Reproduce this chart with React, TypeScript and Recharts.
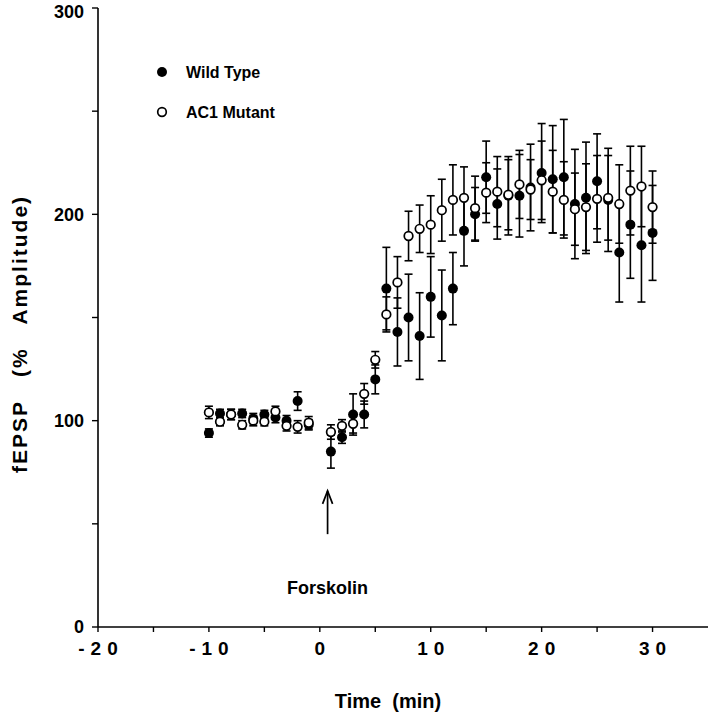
import { ScatterChart, Scatter, XAxis, YAxis, ErrorBar, ReferenceLine, ReferenceDot, Label } from 'recharts';

const FONT = '"Liberation Sans", Arial, Helvetica, sans-serif';

// minutes relative to forskolin application
const times = [-10, -9, -8, -7, -6, -5, -4, -3, -2, -1, 1, 2, 3, 4, 5, 6, 7, 8, 9, 10, 11, 12, 13, 14, 15, 16, 17, 18, 19, 20, 21, 22, 23, 24, 25, 26, 27, 28, 29, 30];

const wildTypeMean = [94, 103.5, 103, 103.5, 101, 103, 101.5, 100, 109.5, 98, 85, 92, 103, 103, 120, 164, 143, 150, 141, 160, 151, 164, 192, 200, 218, 205, 209, 209, 213, 220, 217, 218, 205, 208, 216, 207, 181.5, 195, 185, 191];
const wildTypeSem = [2, 2, 2.5, 2, 2.5, 2, 2.5, 2.5, 4.5, 2.5, 8, 3, 10, 6.5, 7, 20, 16.5, 21, 21, 19.5, 22, 17.5, 17, 13, 17.5, 17, 19, 20, 21, 24, 26, 28, 26.5, 27, 23, 25, 24, 26, 27.5, 23];

const mutantMean = [104, 99.5, 103, 98, 100, 99.5, 104.5, 97.5, 97, 99, 94.5, 97.5, 98.5, 113, 129.5, 151.5, 167, 189.5, 193, 195, 202, 207, 208, 203, 210.5, 211, 209.5, 214.5, 212, 216.5, 211, 207, 202.5, 203.5, 207.5, 208, 205, 211.5, 213.5, 203.5];
const mutantSem = [3, 2, 2.5, 2, 2.5, 2, 2.5, 2.5, 3, 3, 3.5, 3, 4.5, 5, 4, 8.5, 12.5, 12, 11.5, 14, 15, 17, 15, 15.5, 14.5, 17, 17, 16.5, 14.5, 19, 20, 18.5, 17.5, 21, 21, 20.5, 19, 21.5, 19.5, 17.5];

const xTicks = [-20, -15, -10, -5, 0, 5, 10, 15, 20, 25, 30];
const xLabelled = [-20, -10, 0, 10, 20, 30];
const yTicks = [0, 50, 100, 150, 200, 250, 300];
const yLabelled = [0, 100, 200, 300];

const seriesNames = ['Wild Type', 'AC1 Mutant'];

const wildType = times.map((t, i) => ({ t, v: wildTypeMean[i], e: wildTypeSem[i] }));
const mutant = times.map((t, i) => ({ t, v: mutantMean[i], e: mutantSem[i] }));

const textStyle = { fontFamily: FONT, fontWeight: 700, fill: '#000', whiteSpace: 'pre' as const };

function XTick(p: any) {
  const v = p.payload.value;
  if (!xLabelled.includes(v)) return <g />;
  return (
    <text x={p.x + 3} y={p.y} dy="0.71em" textAnchor="middle" fontSize={19} letterSpacing={6} style={textStyle}>
      {v}
    </text>
  );
}

function YTick(p: any) {
  if (!yLabelled.includes(p.payload.value)) return <g />;
  // the top label sits a little lower so it is not clipped by the page edge
  const y = Math.max(p.y, 12);
  return (
    <text x={p.x} y={y} dy="0.36em" textAnchor="end" fontSize={18} style={textStyle}>
      {p.payload.value}
    </text>
  );
}

const FilledDot = (p: any) => <circle cx={p.cx} cy={p.cy} r={5} fill="#000" />;
const OpenDot = (p: any) => <circle cx={p.cx} cy={p.cy} r={4.3} fill="#fff" stroke="#000" strokeWidth={1.7} />;

function Arrow(p: any) {
  const top = Math.min(p.y1, p.y2);
  const bottom = Math.max(p.y1, p.y2);
  const x = p.x1;
  return (
    <g stroke="#000" strokeWidth={1.7} fill="none">
      <line x1={x} y1={bottom} x2={x} y2={top} />
      <polyline points={`${x - 5},${top + 13} ${x},${top} ${x + 5},${top + 13}`} />
    </g>
  );
}

export default function App() {
  const axisLine = { stroke: '#000', strokeWidth: 1.6 };
  const tickLine = { stroke: '#000', strokeWidth: 1.4 };
  return (
    <div style={{ position: 'absolute', left: 0, top: 0, width: 720, height: 717, background: '#fff' }}>
      <ScatterChart width={720} height={717} margin={{ top: 8, right: 12, bottom: 50, left: 0 }}>
        <XAxis dataKey="t" type="number" domain={[-20, 35]} ticks={xTicks} interval={0} height={40} tickSize={5} tickMargin={10} axisLine={axisLine} tickLine={tickLine} tick={XTick}>
          <Label
            content={() => (
              <text x={388} y={708} textAnchor="middle" fontSize={20} style={textStyle}>
                {'Time  (min)'}
              </text>
            )}
          />
        </XAxis>
        <YAxis dataKey="v" type="number" domain={[0, 300]} ticks={yTicks} interval={0} width={98} tickSize={6} tickMargin={8} axisLine={axisLine} tickLine={tickLine} tick={YTick}>
          <Label
            content={() => (
              <text x={0} y={0} transform="translate(27 334) rotate(-90)" textAnchor="middle" fontSize={21} letterSpacing={2} style={textStyle}>
                {'fEPSP   (%   Amplitude)'}
              </text>
            )}
          />
        </YAxis>
        <XAxis xAxisId="top" orientation="top" type="number" domain={[-20, 35]} height={0} tick={false} tickLine={false} axisLine={axisLine} />
        <YAxis yAxisId="right" orientation="right" type="number" domain={[0, 300]} width={0} tick={false} tickLine={false} axisLine={axisLine} />

        <Scatter name={seriesNames[0]} data={wildType} shape={FilledDot} isAnimationActive={false}>
          <ErrorBar dataKey="e" direction="y" width={4} stroke="#000" strokeWidth={1.6} />
        </Scatter>
        <Scatter name={seriesNames[1]} data={mutant} shape={OpenDot} isAnimationActive={false}>
          <ErrorBar dataKey="e" direction="y" width={4} stroke="#000" strokeWidth={1.6} />
        </Scatter>

        <ReferenceLine segment={[{ x: 0.7, y: 45 }, { x: 0.7, y: 66 }]} shape={Arrow} />
        <ReferenceDot
          x={0.7}
          y={19}
          r={0}
          shape={(p: any) => (
            <text x={p.cx} y={p.cy} textAnchor="middle" dominantBaseline="central" fontSize={18} style={textStyle}>
              Forskolin
            </text>
          )}
        />
      </ScatterChart>
      <svg width={720} height={717} style={{ position: 'absolute', left: 0, top: 0, pointerEvents: 'none' }}>
        <circle cx={162} cy={72} r={5} fill="#000" />
        <text x={186} y={72} dy="0.36em" fontSize={16} style={textStyle}>{seriesNames[0]}</text>
        <circle cx={162} cy={112} r={4.3} fill="#fff" stroke="#000" strokeWidth={1.7} />
        <text x={186} y={112} dy="0.36em" fontSize={16} style={textStyle}>{seriesNames[1]}</text>
      </svg>
    </div>
  );
}
